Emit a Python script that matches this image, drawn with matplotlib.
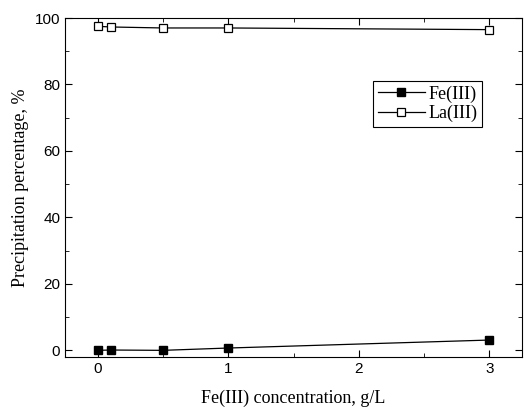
import matplotlib
matplotlib.use("Agg")
import matplotlib.pyplot as plt
from matplotlib.ticker import MultipleLocator

# Fe(III) dose, g/L
conc = [0, 0.1, 0.5, 1, 3]
fe_precip = [0.0, 0.1, 0.0, 0.7, 3.1]
la_precip = [97.5, 97.3, 97.0, 97.0, 96.5]

fig = plt.figure(figsize=(5.24, 4.07), dpi=100)
ax = fig.add_axes([65 / 524, 1 - 357 / 407, 457 / 524, 339 / 407])

ax.plot(conc, fe_precip, "-s", color="black", lw=0.9, ms=5.5,
        mfc="black", mec="black", label="Fe(III)")
ax.plot(conc, la_precip, "-s", color="black", lw=0.9, ms=5.5,
        mfc="white", mec="black", mew=0.9, label="La(III)")

ax.set_xlim(-0.25, 3.25)
ax.set_ylim(-2, 100)
ax.xaxis.set_major_locator(MultipleLocator(1))
ax.xaxis.set_minor_locator(MultipleLocator(0.5))
ax.yaxis.set_major_locator(MultipleLocator(20))
ax.yaxis.set_minor_locator(MultipleLocator(10))
ax.tick_params(which="both", direction="in", top=True, right=True)
ax.tick_params(which="major", length=5, labelsize=11)
ax.tick_params(which="minor", length=3)
for lab in ax.get_xticklabels() + ax.get_yticklabels():
    lab.set_fontfamily("Liberation Sans")

ax.set_xlabel("Fe(III) concentration, g/L", family="Liberation Serif",
              fontsize=13, labelpad=10)
ax.set_ylabel("Precipitation percentage, %", family="Liberation Serif",
              fontsize=13)

leg = ax.legend(loc="upper right", bbox_to_anchor=(0.912, 0.814),
                borderaxespad=0,
                prop={"family": "Liberation Serif", "size": 13},
                fancybox=False, edgecolor="black", framealpha=1,
                handlelength=2.6, borderpad=0.25, labelspacing=0.1,
                handletextpad=0.2)
leg.get_frame().set_linewidth(0.8)

fig.savefig("out.png", dpi=100)
